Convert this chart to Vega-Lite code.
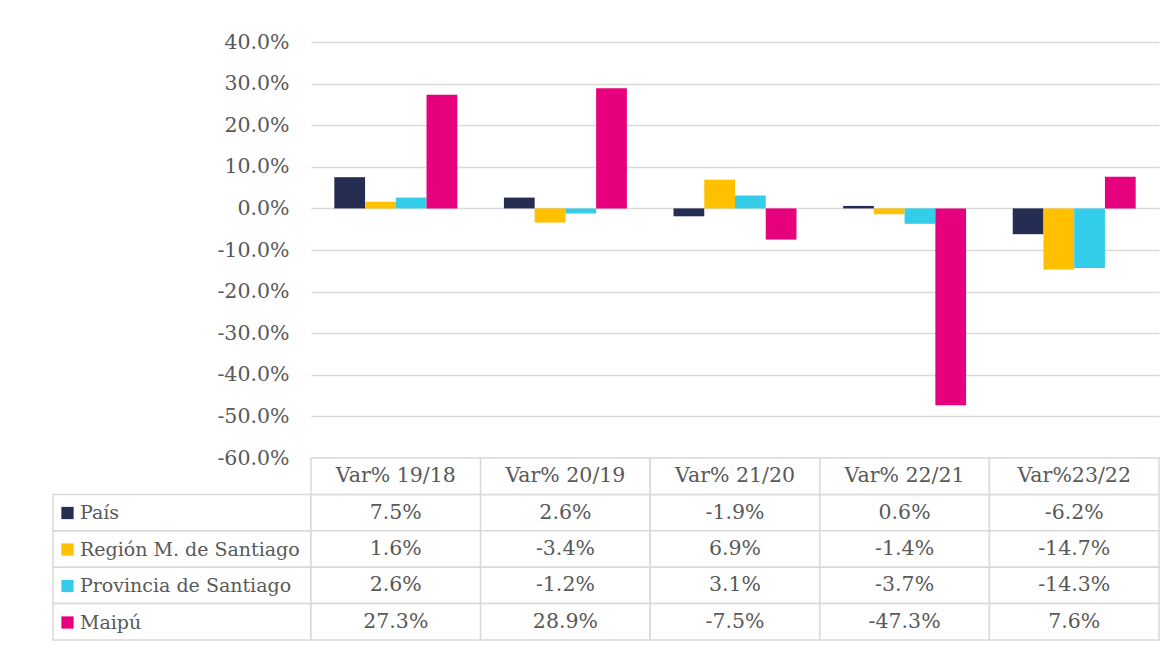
{
  "$schema": "https://vega.github.io/schema/vega-lite/v6.json",
  "padding": {"left": 52, "top": 32, "right": 14, "bottom": 4},
  "background": "white",
  "config": {
    "view": {"stroke": null},
    "font": "DejaVu Serif",
    "locale": {"number": {"decimal": ".", "thousands": ",", "grouping": [3], "currency": ["$", ""], "minus": "-"}}
  },
  "datasets": {
    "d": [
      {"cat": "Var% 19/18", "series": "País", "value": 0.075},
      {"cat": "Var% 20/19", "series": "País", "value": 0.026},
      {"cat": "Var% 21/20", "series": "País", "value": -0.019},
      {"cat": "Var% 22/21", "series": "País", "value": 0.006},
      {"cat": "Var%23/22", "series": "País", "value": -0.062},
      {"cat": "Var% 19/18", "series": "Región M. de Santiago", "value": 0.016},
      {"cat": "Var% 20/19", "series": "Región M. de Santiago", "value": -0.034},
      {"cat": "Var% 21/20", "series": "Región M. de Santiago", "value": 0.069},
      {"cat": "Var% 22/21", "series": "Región M. de Santiago", "value": -0.014},
      {"cat": "Var%23/22", "series": "Región M. de Santiago", "value": -0.147},
      {"cat": "Var% 19/18", "series": "Provincia de Santiago", "value": 0.026},
      {"cat": "Var% 20/19", "series": "Provincia de Santiago", "value": -0.012},
      {"cat": "Var% 21/20", "series": "Provincia de Santiago", "value": 0.031},
      {"cat": "Var% 22/21", "series": "Provincia de Santiago", "value": -0.037},
      {"cat": "Var%23/22", "series": "Provincia de Santiago", "value": -0.143},
      {"cat": "Var% 19/18", "series": "Maipú", "value": 0.273},
      {"cat": "Var% 20/19", "series": "Maipú", "value": 0.289},
      {"cat": "Var% 21/20", "series": "Maipú", "value": -0.075},
      {"cat": "Var% 22/21", "series": "Maipú", "value": -0.473},
      {"cat": "Var%23/22", "series": "Maipú", "value": 0.076}
    ],
    "cats": [
      {"cat": "Var% 19/18"},
      {"cat": "Var% 20/19"},
      {"cat": "Var% 21/20"},
      {"cat": "Var% 22/21"},
      {"cat": "Var%23/22"}
    ],
    "series": [
      {"series": "País"},
      {"series": "Región M. de Santiago"},
      {"series": "Provincia de Santiago"},
      {"series": "Maipú"}
    ]
  },
  "columns": 2,
  "spacing": 0,
  "bounds": "flush",
  "align": "each",
  "concat": [
    {
      "width": 258,
      "height": 416,
      "data": {"values": [{"a": 1}]},
      "mark": {"type": "point", "opacity": 0},
      "encoding": {}
    },
    {
      "width": 848,
      "height": 416,
      "data": {"name": "d"},
      "mark": {"type": "bar"},
      "encoding": {
        "x": {
          "field": "cat", "type": "nominal",
          "sort": ["Var% 19/18", "Var% 20/19", "Var% 21/20", "Var% 22/21", "Var%23/22"],
          "scale": {"paddingInner": 0.275, "paddingOuter": 0.1375},
          "axis": null
        },
        "xOffset": {
          "field": "series", "type": "nominal",
          "sort": ["País", "Región M. de Santiago", "Provincia de Santiago", "Maipú"],
          "scale": {"paddingInner": 0, "paddingOuter": 0}
        },
        "y": {
          "field": "value", "type": "quantitative",
          "scale": {"domain": [-0.6, 0.4], "nice": false},
          "axis": {
            "values": [-0.6, -0.5, -0.4, -0.3, -0.2, -0.1, 0, 0.1, 0.2, 0.3, 0.4],
            "format": ".1%",
            "title": null,
            "domain": false,
            "ticks": false,
            "labelPadding": 22,
            "labelFont": "DejaVu Serif",
            "labelFontSize": 20.5,
            "labelColor": "#595959",
            "gridColor": "#d9d9d9",
            "gridWidth": 1.5
          }
        },
        "color": {
          "field": "series", "type": "nominal",
          "scale": {
            "domain": ["País", "Región M. de Santiago", "Provincia de Santiago", "Maipú"],
            "range": ["#252d52", "#ffc000", "#33cdea", "#e6007e"]
          },
          "legend": {
            "orient": "none",
            "legendX": 5,
            "legendY": 461.5,
            "title": null,
            "padding": 0,
            "symbolType": "square",
            "symbolSize": 150,
            "symbolStrokeWidth": 0,
            "labelFont": "DejaVu Serif",
            "labelFontSize": 19,
            "labelColor": "#595959",
            "labelLimit": 400,
            "labelOffset": 3,
            "rowPadding": 16.5
          }
        }
      }
    },
    {
      "width": 258,
      "height": 182,
      "data": {"name": "series"},
      "mark": {"type": "rect", "fill": "transparent", "stroke": "#d9d9d9", "strokeWidth": 1.5},
      "encoding": {
        "y": {
          "field": "series", "type": "nominal",
          "scale": {"domain": ["hdr", "País", "Región M. de Santiago", "Provincia de Santiago", "Maipú"], "paddingInner": 0, "paddingOuter": 0},
          "axis": null
        }
      }
    },
    {
      "width": 848,
      "height": 182,
      "layer": [
        {
          "data": {"name": "d"},
          "mark": {"type": "rect", "fill": "white", "stroke": "#d9d9d9", "strokeWidth": 1.5},
          "encoding": {
            "x": {"field": "cat", "type": "nominal", "scale": {"domain": ["Var% 19/18", "Var% 20/19", "Var% 21/20", "Var% 22/21", "Var%23/22"], "paddingInner": 0, "paddingOuter": 0}, "axis": null},
            "y": {"field": "series", "type": "nominal", "scale": {"domain": ["hdr", "País", "Región M. de Santiago", "Provincia de Santiago", "Maipú"], "paddingInner": 0, "paddingOuter": 0}, "axis": null}
          }
        },
        {
          "data": {"name": "d"},
          "mark": {"type": "text", "font": "DejaVu Serif", "fontSize": 20.5, "fill": "#595959"},
          "encoding": {
            "x": {"field": "cat", "type": "nominal", "axis": null},
            "y": {"field": "series", "type": "nominal", "axis": null},
            "text": {"field": "value", "type": "quantitative", "format": ".1%"}
          }
        },
        {
          "data": {"name": "cats"},
          "mark": {"type": "rect", "fill": "white", "stroke": "#d9d9d9", "strokeWidth": 1.5},
          "encoding": {
            "x": {"field": "cat", "type": "nominal", "axis": null},
            "y": {"datum": "hdr", "type": "nominal", "axis": null}
          }
        },
        {
          "data": {"name": "cats"},
          "mark": {"type": "text", "font": "DejaVu Serif", "fontSize": 20.5, "fill": "#595959"},
          "encoding": {
            "x": {"field": "cat", "type": "nominal", "axis": null},
            "y": {"datum": "hdr", "type": "nominal", "axis": null},
            "text": {"field": "cat", "type": "nominal"}
          }
        }
      ]
    }
  ]
}
